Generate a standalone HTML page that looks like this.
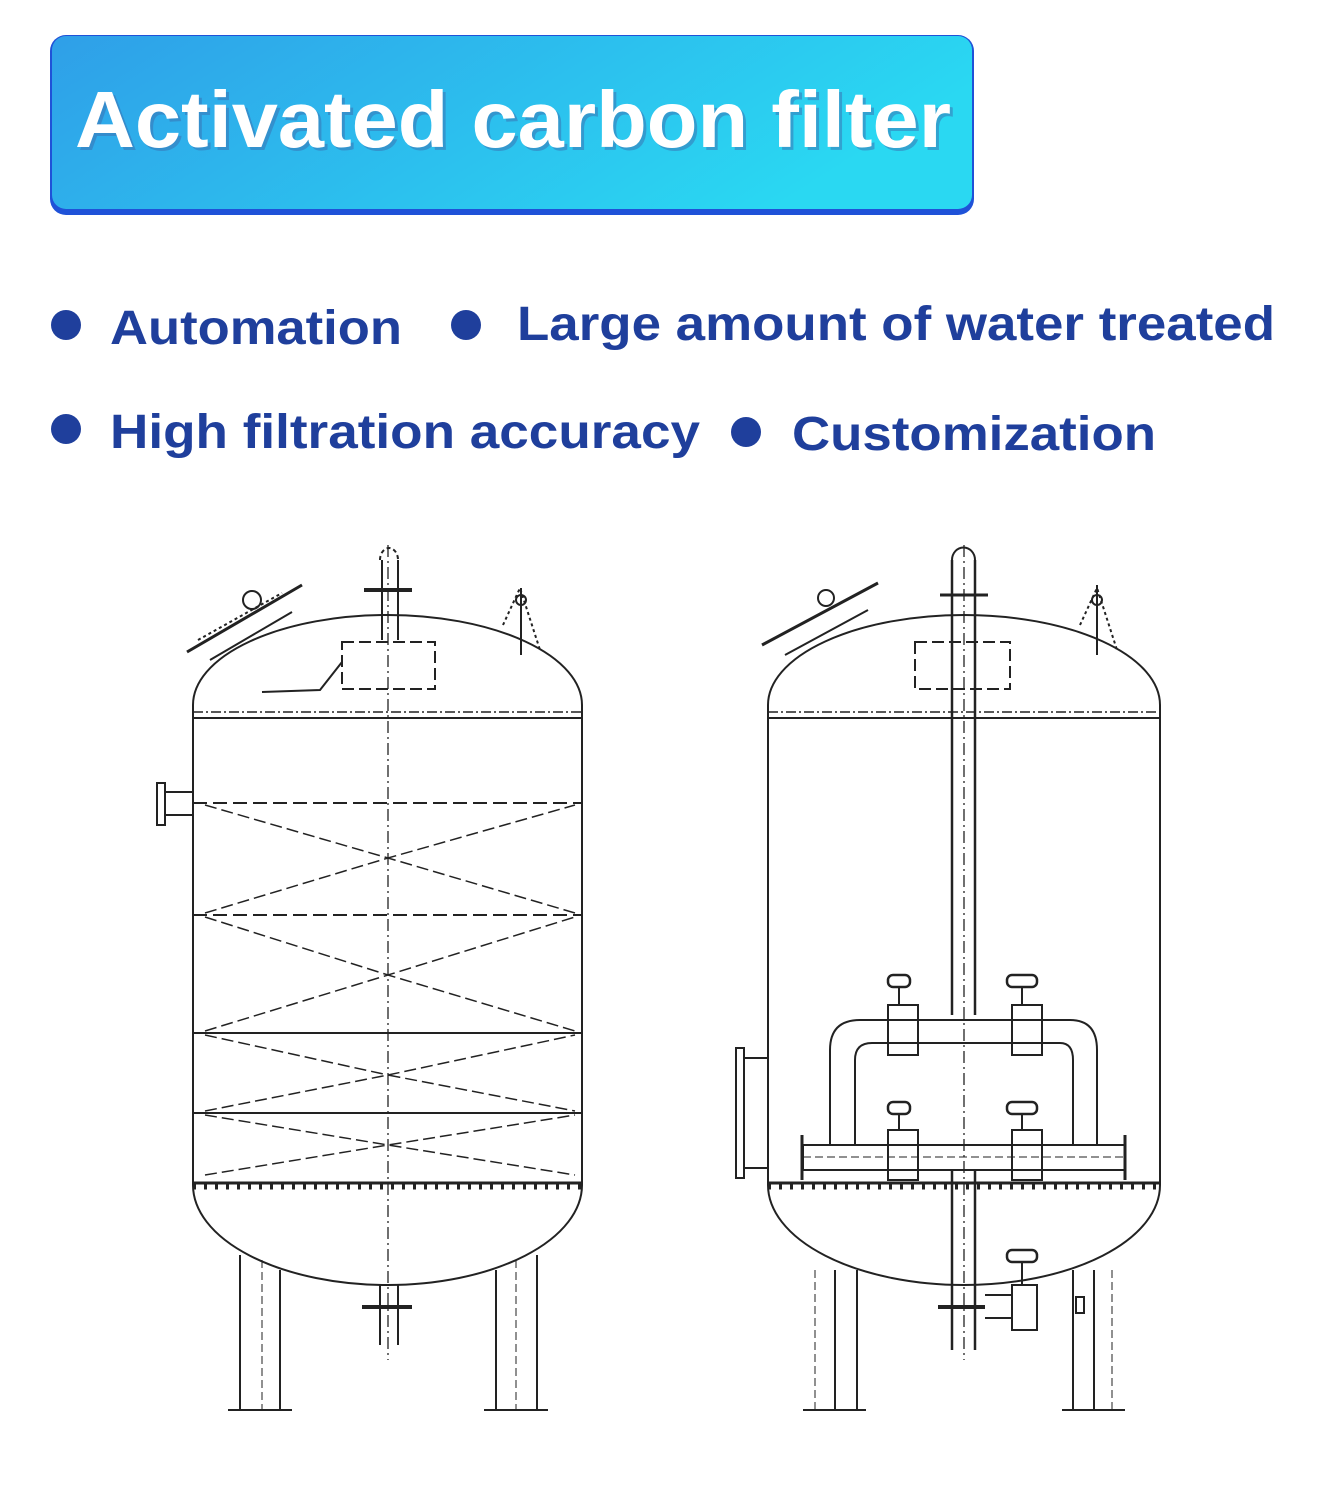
<!DOCTYPE html>
<html><head><meta charset="utf-8"><style>
html,body{margin:0;padding:0;background:#fff;}
body{width:1325px;height:1494px;overflow:hidden;position:relative;}
</style></head><body>
<svg width="1325" height="1494" viewBox="0 0 1325 1494" xmlns="http://www.w3.org/2000/svg" style="position:absolute;left:0;top:0">
<defs>
<linearGradient id="g" x1="0" y1="0" x2="1" y2="0.3">
<stop offset="0" stop-color="#2f9fe8"/><stop offset="1" stop-color="#2ad8f2"/>
</linearGradient>
</defs>
<rect x="50" y="35" width="924" height="180" rx="16" fill="#1f52d8"/>
<rect x="52" y="36" width="920" height="173" rx="14" fill="url(#g)"/>
<text x="78" y="150" font-family="Liberation Sans, sans-serif" font-weight="bold" font-size="80" fill="#3a6fb0" opacity="0.5" textLength="876" lengthAdjust="spacingAndGlyphs">Activated carbon filter</text>
<text x="75" y="147" font-family="Liberation Sans, sans-serif" font-weight="bold" font-size="80" fill="#fff" textLength="876" lengthAdjust="spacingAndGlyphs">Activated carbon filter</text>

<g fill="#1f3f9c" font-family="Liberation Sans, DejaVu Sans, sans-serif" font-weight="bold" font-size="48">
<circle cx="66" cy="325" r="15"/><circle cx="466" cy="325" r="15"/>
<circle cx="66" cy="429" r="15"/><circle cx="746" cy="432" r="15"/>
<text x="110" y="344" textLength="292" lengthAdjust="spacingAndGlyphs">Automation</text>
<text x="517" y="340" textLength="758" lengthAdjust="spacingAndGlyphs">Large amount of water treated</text>
<text x="110" y="448" textLength="590" lengthAdjust="spacingAndGlyphs">High filtration accuracy</text>
<text x="792" y="450" textLength="364" lengthAdjust="spacingAndGlyphs">Customization</text>
</g>

<!-- LEFT TANK -->
<g fill="none" stroke="#222" stroke-width="2">
<path d="M193,705 A194.5 90 0 0 1 582 705"/>
<path d="M193,1185 A194.5 100 0 0 0 582 1185"/>
<line x1="193" y1="705" x2="193" y2="1185"/>
<line x1="582" y1="705" x2="582" y2="1185"/>
<line x1="193" y1="718" x2="582" y2="718"/>
<line x1="193" y1="712" x2="582" y2="712" stroke-dasharray="10 3 2 3" stroke-width="1.5"/>
<line x1="388" y1="545" x2="388" y2="1360" stroke-dasharray="12 4 2 4" stroke-width="1.3"/>
<line x1="382" y1="560" x2="382" y2="640"/><line x1="398" y1="560" x2="398" y2="640"/>
<path d="M380,560 A9 12 0 0 1 398 560" stroke-dasharray="4 3"/>
<line x1="364" y1="590" x2="412" y2="590" stroke-width="4"/>
<rect x="342" y="642" width="93" height="47" stroke-dasharray="12 5"/>
<path d="M262,692 L320,690 L342,662"/>
<line x1="187" y1="652" x2="302" y2="585" stroke-width="3"/>
<line x1="210" y1="660" x2="292" y2="612"/><line x1="198" y1="640" x2="282" y2="593" stroke-dasharray="3 3"/>
<circle cx="252" cy="600" r="9"/>
<path d="M503,625 L520,588 L540,650" stroke-dasharray="3 3"/><circle cx="521" cy="600" r="5"/><line x1="521" y1="588" x2="521" y2="655"/>
<rect x="157" y="783" width="8" height="42"/><line x1="165" y1="792" x2="193" y2="792"/><line x1="165" y1="815" x2="193" y2="815"/>
<g stroke-dasharray="14 6" stroke-width="2">
<line x1="193" y1="803" x2="582" y2="803"/><line x1="193" y1="915" x2="582" y2="915"/>
</g>
<line x1="193" y1="1033" x2="582" y2="1033"/><line x1="193" y1="1113" x2="582" y2="1113"/>
<g stroke-dasharray="12 5" stroke-width="1.5">
<path d="M205,805 L388,858 L575,805 M205,913 L388,858 L575,913"/>
<path d="M205,917 L388,975 L575,917 M205,1031 L388,975 L575,1031"/>
<path d="M205,1035 L388,1075 L575,1035 M205,1111 L388,1075 L575,1111"/>
<path d="M205,1115 L388,1145 L575,1115 M205,1175 L388,1145 L575,1175"/>
</g>
<line x1="193" y1="1183" x2="582" y2="1183" stroke-width="3"/>
<line x1="193" y1="1187" x2="582" y2="1187" stroke-dasharray="3 8" stroke-width="5"/>
<line x1="362" y1="1307" x2="412" y2="1307" stroke-width="4"/>
<line x1="380" y1="1285" x2="380" y2="1345"/><line x1="398" y1="1285" x2="398" y2="1345"/>
<line x1="240" y1="1255" x2="240" y2="1410"/><line x1="280" y1="1270" x2="280" y2="1410"/><line x1="262" y1="1260" x2="262" y2="1410" stroke-width="1" stroke-dasharray="8 4"/>
<line x1="496" y1="1270" x2="496" y2="1410"/><line x1="537" y1="1255" x2="537" y2="1410"/><line x1="516" y1="1260" x2="516" y2="1410" stroke-width="1" stroke-dasharray="8 4"/>
<line x1="228" y1="1410" x2="292" y2="1410"/><line x1="484" y1="1410" x2="548" y2="1410"/>
</g>

<!-- RIGHT TANK -->
<g fill="none" stroke="#222" stroke-width="2">
<path d="M768,705 A196 90 0 0 1 1160 705"/>
<path d="M768,1185 A196 100 0 0 0 1160 1185"/>
<line x1="768" y1="705" x2="768" y2="1185"/>
<line x1="1160" y1="705" x2="1160" y2="1185"/>
<line x1="768" y1="718" x2="1160" y2="718"/>
<line x1="768" y1="712" x2="1160" y2="712" stroke-dasharray="10 3 2 3" stroke-width="1.5"/>
<line x1="964" y1="545" x2="964" y2="1360" stroke-dasharray="12 4 2 4" stroke-width="1.3"/>
<line x1="952" y1="560" x2="952" y2="1015" stroke-width="2.5"/><line x1="975" y1="560" x2="975" y2="1015" stroke-width="2.5"/>
<path d="M952,560 A11 12 0 0 1 975 560"/>
<line x1="940" y1="595" x2="988" y2="595" stroke-width="3"/>
<rect x="915" y="642" width="95" height="47" stroke-dasharray="12 5"/>
<line x1="762" y1="645" x2="878" y2="583" stroke-width="3"/>
<line x1="785" y1="655" x2="868" y2="610"/>
<circle cx="826" cy="598" r="8"/>
<path d="M1080,625 L1097,588 L1117,650" stroke-dasharray="3 3"/><circle cx="1097" cy="600" r="5"/><line x1="1097" y1="585" x2="1097" y2="655"/>
<!-- side sight glass -->
<rect x="736" y="1048" width="8" height="130"/><line x1="744" y1="1058" x2="768" y2="1058"/><line x1="744" y1="1168" x2="768" y2="1168"/>
<!-- upper pipe manifold -->
<path d="M830,1145 L830,1050 Q830,1020 860,1020 L1070,1020 Q1097,1020 1097,1050 L1097,1145"/>
<path d="M855,1145 L855,1060 Q855,1043 872,1043 L1060,1043 Q1073,1043 1073,1060 L1073,1145"/>
<rect x="888" y="1005" width="30" height="50"/><rect x="1012" y="1005" width="30" height="50"/>
<rect x="888" y="1130" width="30" height="50"/><rect x="1012" y="1130" width="30" height="50"/>
<g stroke-width="2.5">
<rect x="888" y="975" width="22" height="12" rx="5"/><rect x="1007" y="975" width="30" height="12" rx="5"/>
<rect x="888" y="1102" width="22" height="12" rx="5"/><rect x="1007" y="1102" width="30" height="12" rx="5"/>
<rect x="1007" y="1250" width="30" height="12" rx="5"/>
</g>
<line x1="899" y1="987" x2="899" y2="1005"/><line x1="1022" y1="987" x2="1022" y2="1005"/>
<line x1="899" y1="1114" x2="899" y2="1130"/><line x1="1022" y1="1114" x2="1022" y2="1130"/>
<line x1="1022" y1="1262" x2="1022" y2="1285"/>
<!-- lower header -->
<rect x="803" y="1145" width="322" height="25"/>
<line x1="803" y1="1157" x2="1125" y2="1157" stroke-dasharray="8 4" stroke-width="1"/>
<line x1="802" y1="1135" x2="802" y2="1180" stroke-width="3"/><line x1="1125" y1="1135" x2="1125" y2="1180" stroke-width="3"/>
<line x1="768" y1="1183" x2="1160" y2="1183" stroke-width="3"/>
<line x1="768" y1="1187" x2="1160" y2="1187" stroke-dasharray="3 8" stroke-width="5"/>
<!-- bottom pipe -->
<line x1="952" y1="1170" x2="952" y2="1350" stroke-width="2.5"/><line x1="975" y1="1170" x2="975" y2="1350" stroke-width="2.5"/>
<line x1="938" y1="1307" x2="985" y2="1307" stroke-width="4"/>
<rect x="1012" y="1285" width="25" height="45"/><line x1="985" y1="1295" x2="1012" y2="1295"/><line x1="985" y1="1318" x2="1012" y2="1318"/>
<line x1="835" y1="1270" x2="835" y2="1410"/><line x1="857" y1="1270" x2="857" y2="1410"/><line x1="815" y1="1270" x2="815" y2="1410" stroke-width="1" stroke-dasharray="8 4"/>
<line x1="1073" y1="1270" x2="1073" y2="1410"/><line x1="1094" y1="1270" x2="1094" y2="1410"/><line x1="1112" y1="1270" x2="1112" y2="1410" stroke-width="1" stroke-dasharray="8 4"/>
<rect x="1076" y="1297" width="8" height="16"/>
<line x1="803" y1="1410" x2="866" y2="1410"/><line x1="1062" y1="1410" x2="1125" y2="1410"/>
</g>
</svg>
</body></html>
